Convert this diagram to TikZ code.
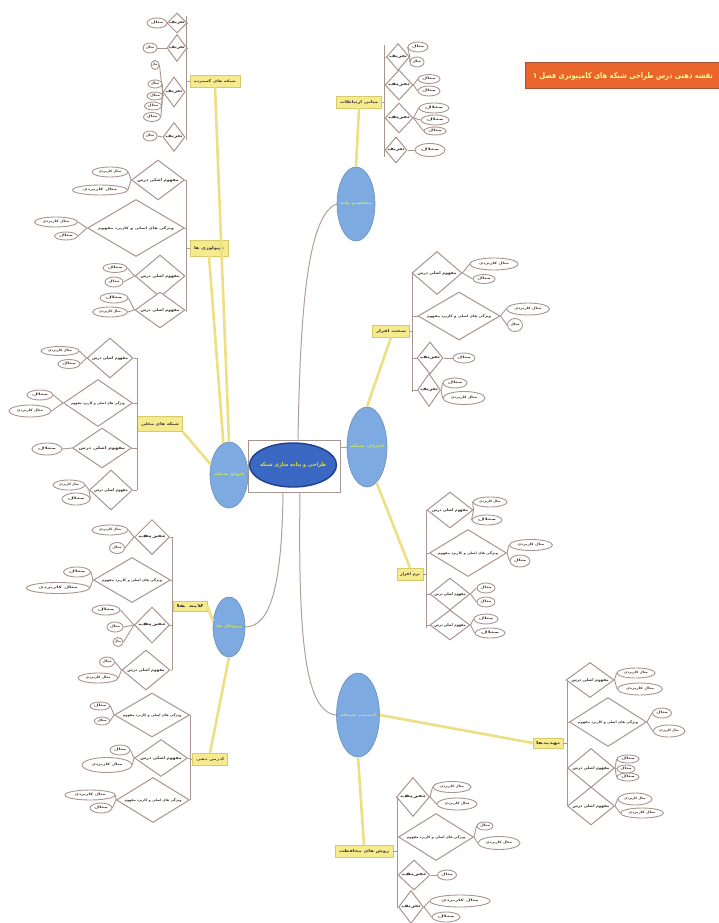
\documentclass[tikz,border=0pt]{standalone}
\usepackage{fontspec}
\usepackage{graphicx}
\newfontfamily\arabicfont[Script=Arabic]{DejaVu Sans}
\TeXXeTstate=1
\usetikzlibrary{shapes.geometric}

\definecolor{twiggray}{HTML}{A8968E}
\definecolor{leafblue}{HTML}{7DAAE0}
\definecolor{coreblue}{HTML}{3A68C2}
\definecolor{corerim}{HTML}{203F8C}
\definecolor{padfill}{HTML}{F5EA8E}
\definecolor{padrim}{HTML}{D8C96A}
\definecolor{bondyellow}{HTML}{EEDF82}
\definecolor{bannerfill}{HTML}{E9652C}
\definecolor{bannerrim}{HTML}{A5533F}
\definecolor{ink}{HTML}{3E3632}
\definecolor{glow}{HTML}{D6EE4A}
\definecolor{coreglow}{HTML}{E6E23E}

\newcommand\fa[1]{{\arabicfont\bfseries #1}}
\newcommand\squeeze[3]{\makebox[0pt]{\resizebox{#1}{#2}{\fa{#3}}}}
\newcommand\dlabel[2]{\ifnum#1>60 \squeeze{#2pt}{3pt}{\beginR ویژگی های اصلی و کاربرد مفهوم\endR}\else\ifnum#1>35 \squeeze{#2pt}{3pt}{\beginR مفهوم اصلی درس\endR}\else\squeeze{#2pt}{2.8pt}{\beginR تعریف\endR}\fi\fi}
\newcommand\elabel[2]{\ifnum#1>30 \squeeze{#2pt}{2.4pt}{\beginR مثال کاربردی\endR}\else\squeeze{#2pt}{2.4pt}{\beginR مثال\endR}\fi}

\tikzset{
  dia/.style={diamond, draw=twiggray, fill=white, line width=1pt, inner sep=0pt, text=ink, font=\fontsize{4}{5}\selectfont},
  leaf/.style={ellipse, draw=twiggray, fill=white, line width=0.9pt, inner sep=0pt, text=ink, font=\fontsize{4}{5}\selectfont},
  topic/.style={rectangle, fill=padfill, draw=padrim, line width=0.5pt, inner sep=1pt, minimum height=12pt, text=ink, font=\fontsize{4}{5}\selectfont},
  sub/.style={ellipse, fill=leafblue, draw=leafblue!85!black, line width=0.6pt, inner sep=0pt, text=glow, font=\fontsize{4}{5}\selectfont},
  core/.style={ellipse, fill=coreblue, draw=corerim, line width=1.4pt, minimum width=87pt, minimum height=44pt, text=coreglow, font=\fontsize{5}{6}\selectfont},
  frame/.style={rectangle, draw=twiggray, line width=0.9pt, minimum width=92pt, minimum height=52pt},
  banner/.style={rectangle, fill=bannerfill, draw=bannerrim, line width=1pt, minimum width=196pt, minimum height=26pt, text=yellow!40, font=\fontsize{7}{8}\selectfont},
  twig/.style={draw=twiggray, line width=0.9pt},
  stem/.style={draw=twiggray!90, line width=1pt},
  bond/.style={draw=bondyellow, line width=2.6pt}
}

\begin{document}
\begin{tikzpicture}[x=1pt,y=-1pt]
\useasboundingbox (0,0) rectangle (718,923);
\fill[white] (0,0) rectangle (718,923);

% title
\node[banner] (title) at (623,76) {\squeeze{180pt}{6pt}{\beginR نقشه ذهنی درس طراحی شبکه های کامپیوتری فصل ۱\endR}};

% centre
\node[frame] (frame) at (294,466) {};
\node[core] (core) at (293,465) {\squeeze{66pt}{4pt}{\beginR طراحی و پیاده سازی شبکه\endR}};

% sub topics
\node[sub, minimum width=38pt, minimum height=74pt] (b1) at (356,204) {\squeeze{32pt}{2.6pt}{\beginR مفاهیم پایه\endR}};
\node[sub, minimum width=40pt, minimum height=80pt] (b2) at (367,447) {\squeeze{34pt}{2.6pt}{\beginR اجزای شبکه\endR}};
\node[sub, minimum width=38pt, minimum height=66pt] (b3) at (229,475) {\squeeze{30pt}{2.6pt}{\beginR انواع شبکه\endR}};
\node[sub, minimum width=32pt, minimum height=60pt] (b4) at (229,627) {\squeeze{25pt}{2.6pt}{\beginR پروتکل ها\endR}};
\node[sub, minimum width=43pt, minimum height=84pt] (b5) at (358,715) {\squeeze{36pt}{2.6pt}{\beginR امنیت شبکه\endR}};

\draw[stem] ([xshift=4pt]frame.north) .. controls (300,330) and (305,215) .. (b1.west);
\draw[stem] (b2.west -| frame.east) -- (b2.west);
\draw[stem] (frame.west) -- (b3.east);
\draw[stem] ([xshift=-11pt]frame.south) .. controls (282,580) and (272,627) .. (b4.east);
\draw[stem] ([xshift=6pt]frame.south) .. controls (298,640) and (305,712) .. (b5.west);

% topic boxes
\node[topic, minimum width=45pt] (y1) at (359,102) {\squeeze{38pt}{3pt}{\beginR مبانی ارتباطات\endR}};
\node[topic, minimum width=37pt] (y2) at (391,331) {\squeeze{30pt}{3pt}{\beginR سخت افزار\endR}};
\node[topic, minimum width=26pt] (y3) at (410,574) {\squeeze{20pt}{3pt}{\beginR نرم افزار\endR}};
\node[topic, minimum width=45pt, minimum height=15pt] (y4) at (160,424) {\squeeze{38pt}{3pt}{\beginR شبکه های محلی\endR}};
\node[topic, minimum width=50pt] (y5) at (215,81) {\squeeze{42pt}{3pt}{\beginR شبکه های گسترده\endR}};
\node[topic, minimum width=38pt, minimum height=16pt] (y6) at (209,248) {\squeeze{30pt}{3pt}{\beginR توپولوژی ها\endR}};
\node[topic, minimum width=34pt, minimum height=10pt] (y7) at (190,606) {\squeeze{27pt}{3pt}{\beginR لایه ها\endR}};
\node[topic, minimum width=35pt] (y8) at (210,759) {\squeeze{28pt}{3pt}{\beginR آدرس دهی\endR}};
\node[topic, minimum width=30pt, minimum height=10pt] (y9) at (548,743) {\squeeze{24pt}{3pt}{\beginR تهدیدها\endR}};
\node[topic, minimum width=58pt] (y10) at (364,851) {\squeeze{50pt}{3pt}{\beginR روش های محافظت\endR}};

\draw[bond] (b1.north) -- (y1.south);
\draw[bond] (b2.north) -- (y2.south);
\draw[bond] (b2.-75) -- (y3.north);
\draw[bond] (b3.150) -- (y4.south east);
\draw[bond] (b3.100) -- (y6.south);
\draw[bond] (b3.90) -- (y5.south);
\draw[bond] (b4.160) -- (y7.east);
\draw[bond] (b4.south) -- (y8.north);
\draw[bond] (b5.east) -- (y9.west);
\draw[bond] (b5.south) -- (y10.north);

% brackets
\coordinate (k1a) at (384,45);  \coordinate (k1b) at (384,157);
\coordinate (k2a) at (412,272); \coordinate (k2b) at (412,392);
\coordinate (k3a) at (426,510); \coordinate (k3b) at (426,628);
\coordinate (k4a) at (137,358); \coordinate (k4b) at (137,490);
\coordinate (k5a) at (186,16);  \coordinate (k5b) at (186,140);
\coordinate (k6a) at (186,180); \coordinate (k6b) at (186,312);
\coordinate (k7a) at (172,537); \coordinate (k7b) at (172,670);
\coordinate (k8a) at (190,715); \coordinate (k8b) at (190,800);
\coordinate (k9a) at (567,680); \coordinate (k9b) at (567,806);
\coordinate (k10a) at (397,797); \coordinate (k10b) at (397,907);
\foreach \k in {1,...,10}
  \draw[twig] (k\k a) -- (k\k b);
\draw[twig] (y1.east) -- (y1.east -| k1a);
\draw[twig] (y2.east) -- (y2.east -| k2a);
\draw[twig] (y3.east) -- (y3.east -| k3a);
\draw[twig] (y4.west) -- (y4.west -| k4a);
\draw[twig] (y5.west) -- (y5.west -| k5a);
\draw[twig] (y6.west) -- (y6.west -| k6a);
\draw[twig] (y7.west) -- (y7.west -| k7a);
\draw[twig] (y8.west) -- (y8.west -| k8a);
\draw[twig] (y9.east) -- (y9.east -| k9a);
\draw[twig] (y10.east) -- (y10.east -| k10a);

% group 1
\foreach \i/\x/\y/\w/\h [evaluate=\w as \r using \w/\h, evaluate=\w as \tw using 0.78*\w] in {1/398/57/23/27, 2/399/85/28/30, 3/399/118/28/30, 4/396/150/22/26}
{
  \node[dia, minimum width=\w pt, minimum height=\h pt, shape aspect=\r] (g1d\i) at (\x,\y) {\dlabel{\w}{\tw}};
  \draw[twig] (g1d\i.west) -- (g1d\i.west -| k1a);
}
\foreach \x/\y/\w/\h/\m [count=\j, evaluate=\w as \tw using 0.62*\w] in {418/47/20/10/1, 417/62/14/10/1, 429/79/22/9/2, 429/91/22/10/2, 434/108/30/10/3, 435/120/28/10/3, 435/131/22/8/3, 430/150/30/13/4}
{
  \node[leaf, minimum width=\w pt, minimum height=\h pt] (g1e\j) at (\x,\y) {\elabel{\w}{\tw}};
  \draw[twig] (g1d\m.east) -- (g1e\j.west);
}

% group 2
\foreach \i/\x/\y/\w/\h [evaluate=\w as \r using \w/\h, evaluate=\w as \tw using 0.78*\w] in {1/437/273/50/43, 2/459/316/82/48, 3/430/358/26/32, 4/429/390/23/33}
{
  \node[dia, minimum width=\w pt, minimum height=\h pt, shape aspect=\r] (g2d\i) at (\x,\y) {\dlabel{\w}{\tw}};
  \draw[twig] (g2d\i.west) -- (g2d\i.west -| k2a);
}
\foreach \x/\y/\w/\h/\m [count=\j, evaluate=\w as \tw using 0.62*\w] in {494/264/48/12/1, 484/279/22/9/1, 528/309/43/12/2, 515/325/15/13/2, 464/358/22/10/3, 455/383/24/10/4, 464/398/42/13/4}
{
  \node[leaf, minimum width=\w pt, minimum height=\h pt] (g2e\j) at (\x,\y) {\elabel{\w}{\tw}};
  \draw[twig] (g2d\m.east) -- (g2e\j.west);
}

% group 3
\foreach \i/\x/\y/\w/\h [evaluate=\w as \r using \w/\h, evaluate=\w as \tw using 0.78*\w] in {1/450/510/46/36, 2/468/553/77/47, 3/450/594/40/32, 4/450/625/40/30}
{
  \node[dia, minimum width=\w pt, minimum height=\h pt, shape aspect=\r] (g3d\i) at (\x,\y) {\dlabel{\w}{\tw}};
  \draw[twig] (g3d\i.west) -- (g3d\i.west -| k3a);
}
\foreach \x/\y/\w/\h/\m [count=\j, evaluate=\w as \tw using 0.62*\w] in {490/502/34/10/1, 487/520/30/10/1, 531/545/43/11/2, 520/561/20/12/2, 486/588/18/10/3, 486/602/18/10/3, 486/619/24/10/4, 490/633/30/10/4}
{
  \node[leaf, minimum width=\w pt, minimum height=\h pt] (g3e\j) at (\x,\y) {\elabel{\w}{\tw}};
  \draw[twig] (g3d\m.east) -- (g3e\j.west);
}

% group 4
\foreach \i/\x/\y/\w/\h [evaluate=\w as \r using \w/\h, evaluate=\w as \tw using 0.78*\w] in {1/110/358/46/40, 2/98/403/69/47, 3/102/448/59/40, 4/111/490/43/40}
{
  \node[dia, minimum width=\w pt, minimum height=\h pt, shape aspect=\r] (g4d\i) at (\x,\y) {\dlabel{\w}{\tw}};
  \draw[twig] (g4d\i.east) -- (g4d\i.east -| k4a);
}
\foreach \x/\y/\w/\h/\m [count=\j, evaluate=\w as \tw using 0.62*\w] in {60/351/38/9/1, 69/364/22/9/1, 40/395/26/10/2, 30/411/42/12/2, 47/449/30/12/3, 69/485/32/10/4, 76/499/28/12/4}
{
  \node[leaf, minimum width=\w pt, minimum height=\h pt] (g4e\j) at (\x,\y) {\elabel{\w}{\tw}};
  \draw[twig] (g4d\m.west) -- (g4e\j.east);
}

% group 5
\foreach \i/\x/\y/\w/\h [evaluate=\w as \r using \w/\h, evaluate=\w as \tw using 0.78*\w] in {1/177/23/20/20, 2/177/48/20/27, 3/174/92/22/30, 4/174/137/22/29}
{
  \node[dia, minimum width=\w pt, minimum height=\h pt, shape aspect=\r] (g5d\i) at (\x,\y) {\dlabel{\w}{\tw}};
  \draw[twig] (g5d\i.east) -- (g5d\i.east -| k5a);
}
\foreach \x/\y/\w/\h/\m [count=\j, evaluate=\w as \tw using 0.62*\w] in {157/23/20/10/1, 150/48/14/10/2, 155/65/8/9/3, 155/84/14/8/3, 155/96/16/8/3, 153/106/17/8/3, 152/117/17/9/3, 150/136/14/10/4}
{
  \node[leaf, minimum width=\w pt, minimum height=\h pt] (g5e\j) at (\x,\y) {\elabel{\w}{\tw}};
  \draw[twig] (g5d\m.west) -- (g5e\j.east);
}

% group 6
\foreach \i/\x/\y/\w/\h [evaluate=\w as \r using \w/\h, evaluate=\w as \tw using 0.78*\w] in {1/158/180/53/40, 2/136/228/97/57, 3/160/276/50/42, 4/160/310/50/36}
{
  \node[dia, minimum width=\w pt, minimum height=\h pt, shape aspect=\r] (g6d\i) at (\x,\y) {\dlabel{\w}{\tw}};
  \draw[twig] (g6d\i.east) -- (g6d\i.east -| k6a);
}
\foreach \x/\y/\w/\h/\m [count=\j, evaluate=\w as \tw using 0.62*\w] in {110/172/36/10/1, 100/190/55/10/1, 56/222/43/10/2, 66/236/23/8/2, 115/268/24/9/3, 114/282/18/10/3, 114/298/28/10/4, 110/312/35/10/4}
{
  \node[leaf, minimum width=\w pt, minimum height=\h pt] (g6e\j) at (\x,\y) {\elabel{\w}{\tw}};
  \draw[twig] (g6d\m.west) -- (g6e\j.east);
}

% group 7
\foreach \i/\x/\y/\w/\h [evaluate=\w as \r using \w/\h, evaluate=\w as \tw using 0.78*\w] in {1/152/537/35/35, 2/132/580/77/45, 3/152/625/35/36, 4/146/670/48/40}
{
  \node[dia, minimum width=\w pt, minimum height=\h pt, shape aspect=\r] (g7d\i) at (\x,\y) {\dlabel{\w}{\tw}};
  \draw[twig] (g7d\i.east) -- (g7d\i.east -| k7a);
}
\foreach \x/\y/\w/\h/\m [count=\j, evaluate=\w as \tw using 0.62*\w] in {110/530/36/10/1, 117/548/15/11/1, 77/572/27/10/2, 58/588/63/11/2, 106/610/28/10/3, 115/627/16/10/3, 118/642/10/9/3, 107/662/15/10/4, 98/678/40/10/4}
{
  \node[leaf, minimum width=\w pt, minimum height=\h pt] (g7e\j) at (\x,\y) {\elabel{\w}{\tw}};
  \draw[twig] (g7d\m.west) -- (g7e\j.east);
}

% group 8
\foreach \i/\x/\y/\w/\h [evaluate=\w as \r using \w/\h, evaluate=\w as \tw using 0.78*\w] in {1/152/715/75/44, 2/161/758/53/37, 3/153/800/73/45}
{
  \node[dia, minimum width=\w pt, minimum height=\h pt, shape aspect=\r] (g8d\i) at (\x,\y) {\dlabel{\w}{\tw}};
  \draw[twig] (g8d\i.east) -- (g8d\i.east -| k8a);
}
\foreach \x/\y/\w/\h/\m [count=\j, evaluate=\w as \tw using 0.62*\w] in {100/706/20/8/1, 102/721/15/8/1, 120/750/20/10/2, 107/765/50/15/2, 90/795/50/10/3, 101/808/22/10/3}
{
  \node[leaf, minimum width=\w pt, minimum height=\h pt] (g8e\j) at (\x,\y) {\elabel{\w}{\tw}};
  \draw[twig] (g8d\m.west) -- (g8e\j.east);
}

% group 9
\foreach \i/\x/\y/\w/\h [evaluate=\w as \r using \w/\h, evaluate=\w as \tw using 0.78*\w] in {1/590/680/48/35, 2/608/722/77/49, 3/591/768/47/39, 4/591/806/47/38}
{
  \node[dia, minimum width=\w pt, minimum height=\h pt, shape aspect=\r] (g9d\i) at (\x,\y) {\dlabel{\w}{\tw}};
  \draw[twig] (g9d\i.west) -- (g9d\i.west -| k9a);
}
\foreach \x/\y/\w/\h/\m [count=\j, evaluate=\w as \tw using 0.62*\w] in {636/673/38/10/1, 640/689/45/12/1, 662/713/19/10/2, 669/731/32/12/2, 628/759/22/8/3, 626/769/18/8/3, 628/777/22/8/3, 635/799/34/12/4, 642/813/43/10/4}
{
  \node[leaf, minimum width=\w pt, minimum height=\h pt] (g9e\j) at (\x,\y) {\elabel{\w}{\tw}};
  \draw[twig] (g9d\m.east) -- (g9e\j.west);
}

% group 10
\foreach \i/\x/\y/\w/\h [evaluate=\w as \r using \w/\h, evaluate=\w as \tw using 0.78*\w] in {1/413/797/33/39, 2/436/837/75/47, 3/414/875/32/30, 4/411/907/25/33}
{
  \node[dia, minimum width=\w pt, minimum height=\h pt, shape aspect=\r] (g10d\i) at (\x,\y) {\dlabel{\w}{\tw}};
  \draw[twig] (g10d\i.west) -- (g10d\i.west -| k10a);
}
\foreach \x/\y/\w/\h/\m [count=\j, evaluate=\w as \tw using 0.62*\w] in {452/787/38/11/1, 457/804/40/12/1, 485/826/16/8/2, 499/843/42/13/2, 447/875/19/10/3, 460/901/60/12/4, 446/917/28/10/4}
{
  \node[leaf, minimum width=\w pt, minimum height=\h pt] (g10e\j) at (\x,\y) {\elabel{\w}{\tw}};
  \draw[twig] (g10d\m.east) -- (g10e\j.west);
}
\end{tikzpicture}
\end{document}
